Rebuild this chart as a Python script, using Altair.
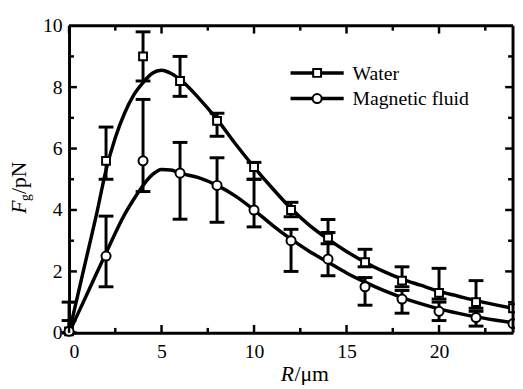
import altair as alt
import pandas as pd

# ---- data ----
pt_x = [0, 2, 4, 6, 8, 10, 12, 14, 16, 18, 20, 22, 24]
water_y = [0.05, 5.6, 9.0, 8.2, 6.9, 5.4, 4.0, 3.1, 2.3, 1.7, 1.3, 1.0, 0.8]
mf_y = [0.05, 2.5, 5.6, 5.2, 4.8, 4.0, 3.0, 2.4, 1.5, 1.1, 0.7, 0.5, 0.3]

err_x = [0, 2, 4, 6, 8, 10, 12, 14, 16, 18, 20, 22]
water_lo = [0.0, 5.0, 8.2, 7.7, 6.4, 5.0, 3.78, 2.9, 2.15, 1.5, 1.1, 0.8]
water_hi = [1.0, 6.7, 9.8, 9.0, 7.15, 5.55, 4.25, 3.69, 2.72, 2.15, 2.1, 1.7]
mf_lo = [0.0, 1.5, 4.6, 3.7, 3.6, 3.45, 2.0, 1.86, 0.9, 0.64, 0.4, 0.22]
mf_hi = [0.4, 3.8, 7.6, 6.2, 5.7, 5.0, 3.37, 3.27, 1.8, 1.38, 1.0, 0.7]

water_fit_x = [0, 0.5, 1, 1.5, 2, 2.5, 3, 3.5, 4, 4.5, 5, 5.5, 6, 7, 8, 9, 10, 11, 12,
               13, 14, 15, 16, 17, 18, 19, 20, 21, 22, 23, 24]
water_fit_y = [0, 1.3, 2.6, 3.9, 5.3, 6.35, 7.15, 7.75, 8.15, 8.45, 8.55, 8.45, 8.25,
               7.65, 6.95, 6.15, 5.4, 4.7, 4.05, 3.5, 3.05, 2.65, 2.3, 2.0, 1.75, 1.55,
               1.35, 1.2, 1.05, 0.92, 0.8]
mf_fit_x = [0, 1, 2, 3, 3.5, 4, 4.5, 5, 5.5, 6, 7, 8, 9, 10, 11, 12, 13, 14, 15, 16,
            17, 18, 19, 20, 21, 22, 23, 24]
mf_fit_y = [0, 1.3, 2.6, 3.85, 4.35, 4.8, 5.15, 5.32, 5.3, 5.2, 5.05, 4.8, 4.45, 4.0,
            3.5, 3.05, 2.65, 2.3, 1.95, 1.65, 1.38, 1.15, 0.95, 0.78, 0.64, 0.52, 0.42, 0.33]

x_major = [0, 5, 10, 15, 20]
x_minor = [2.5, 7.5, 12.5, 17.5, 22.5]
y_major = [0, 2, 4, 6, 8, 10]
y_minor = [1, 3, 5, 7, 9]

legend_labels = ["Water", "Magnetic fluid"]

W, H = 451, 312
FONT = "Liberation Serif"

xs = alt.Scale(domain=[0, 24], nice=False, zero=False)
ys = alt.Scale(domain=[0, 10], nice=False)

x_axis = alt.Axis(values=x_major, ticks=False, domain=True, domainColor="black",
                  domainWidth=3, grid=False, title=None,
                  labelFont=FONT, labelFontSize=20, labelPadding=9, labelColor="black")
y_axis = alt.Axis(values=y_major, ticks=False, domain=True, domainColor="black",
                  domainWidth=3, grid=False, title=None,
                  labelFont=FONT, labelFontSize=20, labelPadding=7, labelColor="black")


def X(field="x"):
    return alt.X(f"{field}:Q", scale=xs, axis=x_axis)


def Y(field="y"):
    return alt.Y(f"{field}:Q", scale=ys, axis=y_axis)


layers = []

# error bars
for lo, hi in [(water_lo, water_hi), (mf_lo, mf_hi)]:
    d = pd.DataFrame({"x": err_x, "lo": lo, "hi": hi})
    base = alt.Chart(d)
    layers.append(base.mark_rule(color="black", strokeWidth=3, opacity=1).encode(
        x=X(), y=alt.Y("lo:Q", scale=ys, axis=y_axis), y2="hi:Q"))
    for f in ["lo", "hi"]:
        layers.append(base.mark_tick(color="black", orient="horizontal", size=15,
                                     thickness=3, opacity=1).encode(
            x=X(), y=alt.Y(f"{f}:Q", scale=ys, axis=y_axis)))

# fitted curves
for fx, fy in [(water_fit_x, water_fit_y), (mf_fit_x, mf_fit_y)]:
    d = pd.DataFrame({"x": fx, "y": fy})
    layers.append(alt.Chart(d).mark_line(color="black", strokeWidth=3.5,
                                         interpolate="monotone").encode(x=X(), y=Y()))

# markers
layers.append(alt.Chart(pd.DataFrame({"x": pt_x, "y": water_y})).mark_point(
    shape="square", size=64, filled=True, fill="white", stroke="black",
    strokeWidth=2, opacity=1).encode(x=X(), y=Y()))
layers.append(alt.Chart(pd.DataFrame({"x": pt_x, "y": mf_y})).mark_point(
    shape="circle", size=85, filled=True, fill="white", stroke="black",
    strokeWidth=2, opacity=1).encode(x=X(), y=Y()))


# inward ticks on all four sides
def xticks(vals, length, top):
    d = pd.DataFrame({"x": vals})
    y0 = 0 if top else H
    y1 = length if top else H - length
    return alt.Chart(d).mark_rule(color="black", strokeWidth=2.5).encode(
        x=X(), y=alt.value(y0), y2=alt.value(y1))


def yticks(vals, length, right):
    d = pd.DataFrame({"y": vals})
    x0 = W if right else 0
    x1 = W - length if right else length
    return alt.Chart(d).mark_rule(color="black", strokeWidth=2.5).encode(
        y=Y(), x=alt.value(x0), x2=alt.value(x1))


for side in [False, True]:
    layers.append(xticks(x_major, 8, side))
    layers.append(xticks(x_minor, 5, side))
    layers.append(yticks([v for v in y_major if 0 < v < 10], 8, side))
    layers.append(yticks(y_minor, 5, side))

# top and right edges of the frame, drawn at the scale extremes
layers.append(alt.Chart(pd.DataFrame({"x": [0], "x2": [24], "y": [10]})).mark_rule(
    color="black", strokeWidth=3, opacity=1).encode(x=X(), x2="x2:Q", y=Y()))
layers.append(alt.Chart(pd.DataFrame({"x": [24], "y": [0], "y2": [10]})).mark_rule(
    color="black", strokeWidth=3, opacity=1).encode(x=X(), y=Y(), y2="y2:Q"))

# legend (drawn inside the plot)
for i, (lab, shp, sz) in enumerate(zip(legend_labels, ["square", "circle"], [64, 85])):
    ly = 48 + 26 * i
    one = pd.DataFrame({"t": [lab]})
    layers.append(alt.Chart(one).mark_rule(color="black", strokeWidth=3.5).encode(
        x=alt.value(225), x2=alt.value(279), y=alt.value(ly)))
    layers.append(alt.Chart(one).mark_point(
        shape=shp, size=sz, filled=True, fill="white", stroke="black",
        strokeWidth=2, opacity=1).encode(x=alt.value(252), y=alt.value(ly)))
    layers.append(alt.Chart(one).mark_text(
        font=FONT, fontSize=20, align="left", baseline="middle", color="black").encode(
        text="t:N", x=alt.value(288), y=alt.value(ly + 1)))


# axis titles with italic parts
def txt(s, x, y, size=22, italic=False, angle=0):
    kw = dict(font=FONT, fontSize=size, align="left", baseline="alphabetic",
              color="black")
    if italic:
        kw["fontStyle"] = "italic"
    if angle:
        kw["angle"] = angle
    return alt.Chart(pd.DataFrame({"t": [s]})).mark_text(**kw).encode(
        text="t:N", x=alt.value(x), y=alt.value(y))


layers.append(txt("R", 215, 361, italic=True))
layers.append(txt("/μm", 229, 361))
layers.append(txt("F", -44, 191, italic=True, angle=270))
layers.append(txt("g", -40, 178, size=14, angle=270))
layers.append(txt("/pN", -44, 171, angle=270))

chart = alt.layer(*layers).properties(
    width=W, height=H,
    autosize=alt.AutoSizeParams(type="none"),
    padding={"left": 62, "top": 15, "right": 2, "bottom": 50},
    background="white",
).configure_view(strokeWidth=0)

chart.save("out.html", embed_options={"renderer": "svg", "actions": False})
